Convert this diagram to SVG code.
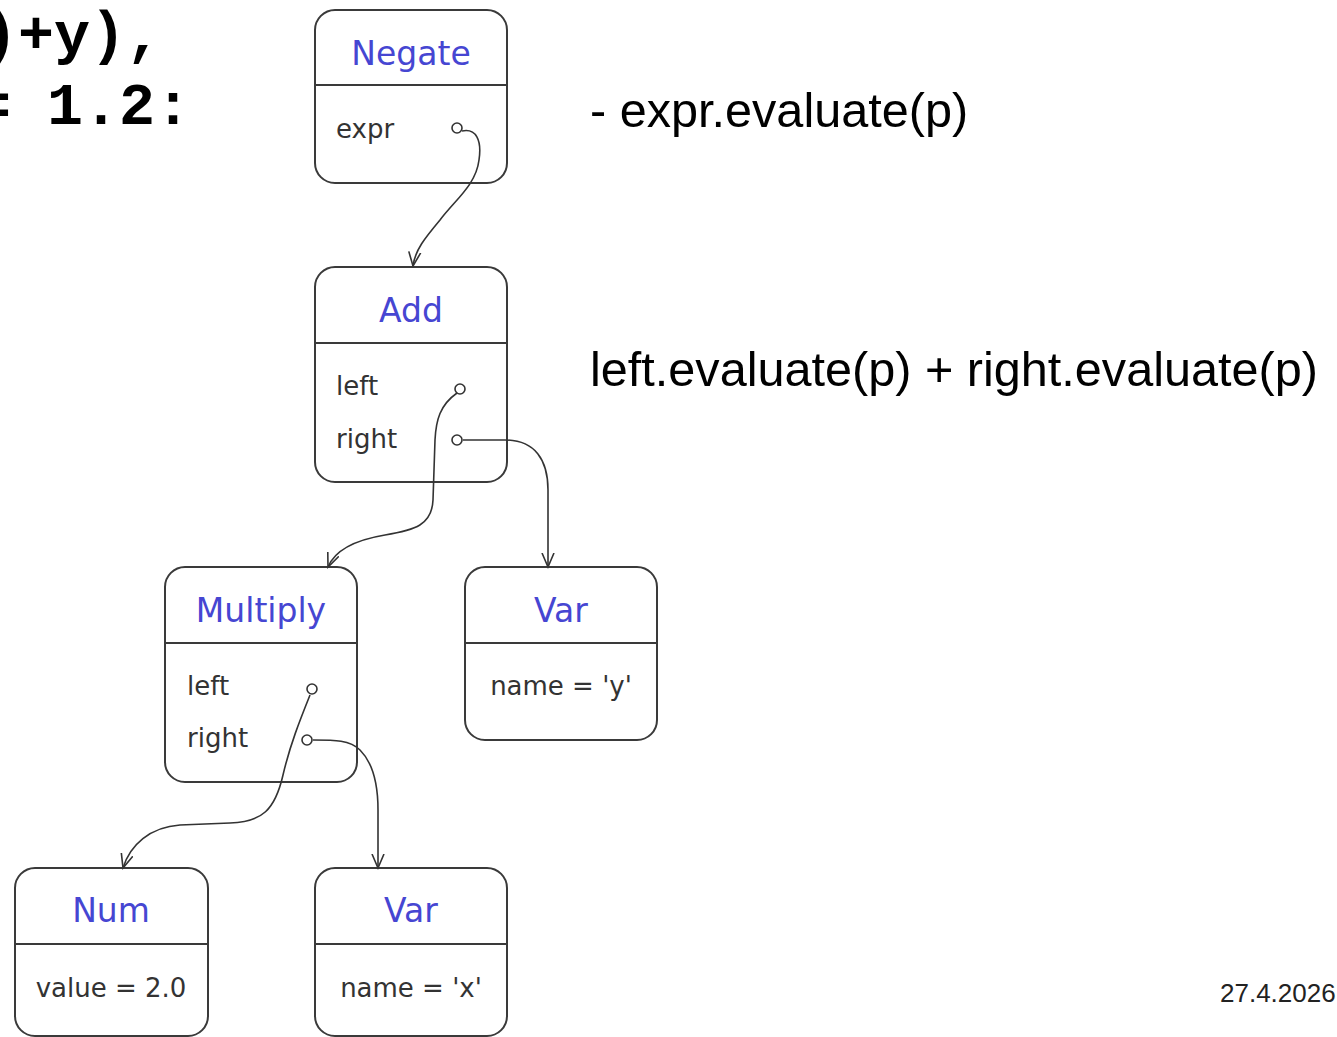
<svg xmlns="http://www.w3.org/2000/svg" width="1337" height="1037" viewBox="0 0 1337 1037">
<style>
.box{fill:#fff;stroke:#3a3a3a;stroke-width:2}
.sep{stroke:#3a3a3a;stroke-width:2}
.title{font-family:"DejaVu Sans",sans-serif;font-size:33px;fill:#4646d2;text-anchor:middle}
.attr{font-family:"DejaVu Sans",sans-serif;font-size:26px;fill:#333}
.val{font-family:"DejaVu Sans",sans-serif;font-size:26px;fill:#333;text-anchor:middle}
.port{fill:#fff;stroke:#333;stroke-width:1.6}
.conn{fill:none;stroke:#333;stroke-width:1.6;marker-end:url(#arr)}
.code{font-family:"Liberation Mono","Courier New",monospace;font-weight:bold;font-size:60px;fill:#000}
.note{font-family:"Liberation Sans",Arial,sans-serif;font-size:48.6px;fill:#000}
</style>
<defs>
<marker id="arr" markerWidth="16" markerHeight="14" refX="14" refY="7" orient="auto" markerUnits="userSpaceOnUse">
<path d="M0,1 L14,7 L0,13" fill="none" stroke="#333" stroke-width="1.6"/>
</marker>
</defs>
<rect width="1337" height="1037" fill="#fff"/>
<text class="code" x="-18" y="53" xml:space="preserve">)+y),</text>
<text class="code" x="-25" y="124" xml:space="preserve">= 1.2:</text>
<text class="note" x="590" y="127">- expr.evaluate(p)</text>
<text class="note" x="590" y="386">left.evaluate(p) + right.evaluate(p)</text>
<text x="1220" y="1002" font-family="Liberation Sans,Arial,sans-serif" font-size="26" fill="#222">27.4.2026</text>

<g id="negate">
<rect class="box" x="315" y="10" width="192" height="173" rx="20"/>
<line class="sep" x1="315" y1="85" x2="507" y2="85"/>
<text class="title" x="411" y="65">Negate</text>
<text class="attr" x="336" y="138">expr</text>
</g>
<g id="add">
<rect class="box" x="315" y="267" width="192" height="215" rx="20"/>
<line class="sep" x1="315" y1="343" x2="507" y2="343"/>
<text class="title" x="411" y="322">Add</text>
<text class="attr" x="336" y="395">left</text>
<text class="attr" x="336" y="448">right</text>
</g>
<g id="multiply">
<rect class="box" x="165" y="567" width="192" height="215" rx="20"/>
<line class="sep" x1="165" y1="643" x2="357" y2="643"/>
<text class="title" x="261" y="622">Multiply</text>
<text class="attr" x="187" y="695">left</text>
<text class="attr" x="187" y="747">right</text>
</g>
<g id="var-y">
<rect class="box" x="465" y="567" width="192" height="173" rx="20"/>
<line class="sep" x1="465" y1="643" x2="657" y2="643"/>
<text class="title" x="561" y="622">Var</text>
<text class="val" x="561" y="695">name = 'y'</text>
</g>
<g id="num">
<rect class="box" x="15" y="868" width="193" height="168" rx="20"/>
<line class="sep" x1="15" y1="944" x2="208" y2="944"/>
<text class="title" x="111" y="922">Num</text>
<text class="val" x="111" y="997">value = 2.0</text>
</g>
<g id="var-x">
<rect class="box" x="315" y="868" width="192" height="168" rx="20"/>
<line class="sep" x1="315" y1="944" x2="507" y2="944"/>
<text class="title" x="411" y="922">Var</text>
<text class="val" x="411" y="997">name = 'x'</text>
</g>

<g id="connectors">
<path class="conn" d="M462,131 C476,128 482,140 479,160 C476,185 455,200 440,220 C425,238 415,250 413,266"/>
<path class="conn" d="M457,393 C440,405 436,420 435,440 L433,500 C432,525 415,530 385,535 C355,540 335,550 328,567"/>
<path class="conn" d="M463,440 L505,440 C535,440 548,460 548,490 L548,567"/>
<path class="conn" d="M310,695 C300,720 290,745 283,775 C275,810 262,822 230,823 L180,825 C150,827 130,845 123,868"/>
<path class="conn" d="M313,740 C335,740 350,740 360,750 C375,765 378,790 378,810 L378,868"/>
<circle class="port" cx="457" cy="128" r="5"/>
<circle class="port" cx="460" cy="389" r="5"/>
<circle class="port" cx="457" cy="440" r="5"/>
<circle class="port" cx="312" cy="689" r="5"/>
<circle class="port" cx="307" cy="740" r="5"/>
</g>
</svg>
